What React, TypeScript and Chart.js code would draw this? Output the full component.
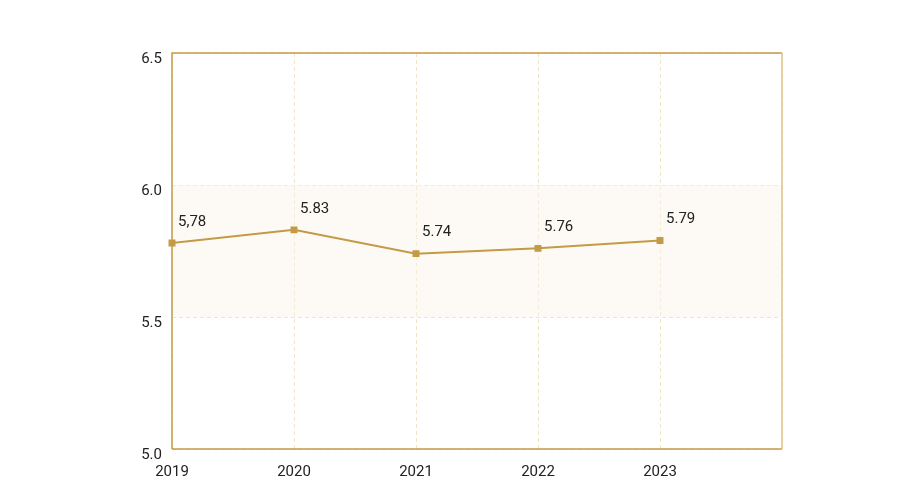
import React, { useEffect, useRef } from "react";
import { Chart, registerables } from "chart.js";

Chart.register(...registerables);

const categories = ["2019", "2020", "2021", "2022", "2023", ""];
const values = [5.78, 5.83, 5.74, 5.76, 5.79];
const valueLabels = ["5,78", "5.83", "5.74", "5.76", "5.79"];
const bandRange = [5.5, 6.0];
const yTicks = [5.0, 5.5, 6.0, 6.5];

const GOLD = "#C49A45";
const FONT = "Roboto, 'Noto Sans', sans-serif";

export default function App() {
  const ref = useRef<HTMLCanvasElement | null>(null);
  useEffect(() => {
    if (!ref.current) return;
    const bandPlugin = {
      id: "band",
      beforeDatasetsDraw(chart: any) {
        const { ctx, chartArea, scales } = chart;
        const y = scales.y;
        const top = y.getPixelForValue(bandRange[1]);
        const bot = y.getPixelForValue(bandRange[0]);
        ctx.save();
        ctx.fillStyle = "rgba(250, 243, 232, 0.45)";
        ctx.fillRect(chartArea.left, top, chartArea.right - chartArea.left, bot - top);
        ctx.restore();
      },
    };
    const framePlugin = {
      id: "frame",
      afterDatasetsDraw(chart: any) {
        const { ctx, chartArea } = chart;
        const { left, right, top, bottom } = chartArea;
        ctx.save();
        ctx.lineWidth = 1.5;
        ctx.strokeStyle = GOLD;
        ctx.beginPath();
        ctx.moveTo(left, bottom);
        ctx.lineTo(left, top);
        ctx.lineTo(right, top);
        ctx.moveTo(left, bottom);
        ctx.lineTo(right, bottom);
        ctx.stroke();
        ctx.strokeStyle = "#DFC38E";
        ctx.beginPath();
        ctx.moveTo(right, top);
        ctx.lineTo(right, bottom);
        ctx.stroke();
        ctx.restore();
      },
    };
    const labelPlugin = {
      id: "vlabels",
      afterDraw(chart: any) {
        const { ctx } = chart;
        const meta = chart.getDatasetMeta(0);
        ctx.save();
        ctx.font = `15px ${FONT}`;
        ctx.fillStyle = "#222";
        ctx.textAlign = "left";
        ctx.textBaseline = "middle";
        meta.data.forEach((pt: any, i: number) => {
          ctx.fillText(valueLabels[i], pt.x + 6, pt.y - 21);
        });
        ctx.restore();
      },
    };
    const chart = new Chart(ref.current, {
      type: "line",
      data: {
        labels: categories,
        datasets: [
          {
            data: values,
            borderColor: GOLD,
            backgroundColor: GOLD,
            borderWidth: 2,
            pointStyle: "rect",
            pointRadius: 3.5,
            pointHoverRadius: 3.5,
            tension: 0,
            clip: false as any,
          },
        ],
      },
      options: {
        animation: false,
        responsive: false,
        maintainAspectRatio: false,
        layout: { padding: { left: 0, right: 118, top: 53, bottom: 0 } },
        plugins: { legend: { display: false }, tooltip: { enabled: false } },
        scales: {
          x: {
            type: "category",
            offset: false,
            grid: { color: "#F1E5C8", lineWidth: 1, drawTicks: false },
            border: { display: false, dash: [4, 3] },
            ticks: {
              color: "#222",
              font: { family: FONT, size: 15 },
              padding: 14,
              maxRotation: 0,
              autoSkip: false,
            },
            afterFit(s: any) {
              s.height = 51;
            },
          },
          y: {
            min: 5.0,
            max: 6.5,
            afterBuildTicks(s: any) {
              s.ticks = yTicks.map((v) => ({ value: v }));
            },
            grid: { color: "#F1E5C8", lineWidth: 1, drawTicks: false },
            border: { display: false, dash: [4, 3] },
            ticks: {
              color: "#222",
              font: { family: FONT, size: 15 },
              padding: 10,
              labelOffset: 6,
              callback: (v: any) => Number(v).toFixed(1),
            },
            afterFit(s: any) {
              s.width = 172;
            },
          },
        },
      },
      plugins: [bandPlugin, framePlugin, labelPlugin],
    });
    return () => chart.destroy();
  }, []);
  return (
    <div style={{ position: "fixed", left: 0, top: 0, width: 900, height: 500, background: "#fff" }}>
      <canvas ref={ref} width={900} height={500} style={{ width: 900, height: 500 }} />
    </div>
  );
}
